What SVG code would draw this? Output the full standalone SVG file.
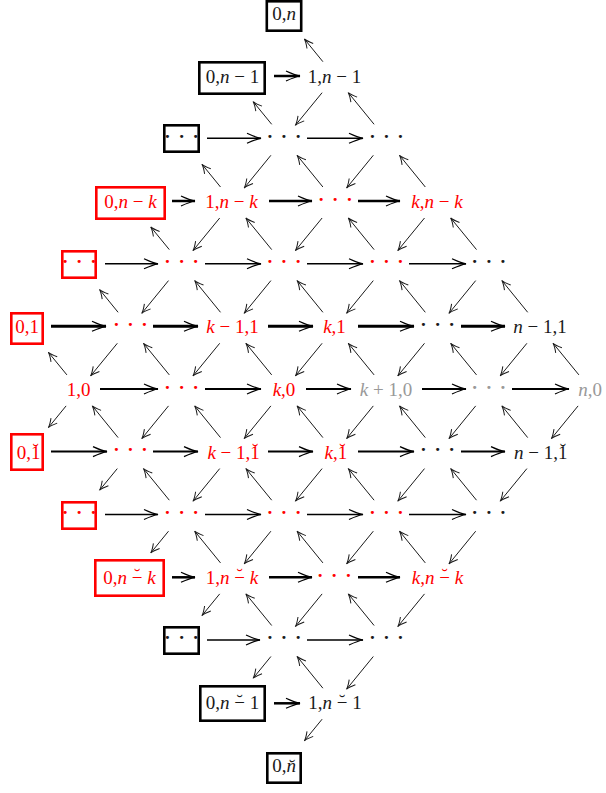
<svg xmlns="http://www.w3.org/2000/svg" width="606" height="793" viewBox="0 0 606 793">
<style>
text{font-family:"Liberation Serif","Times New Roman",serif;font-size:19px;text-anchor:middle}
.k{fill:#1a1a1a}.r{fill:#f00}.g{fill:#999}
.i{font-style:italic}
.d{letter-spacing:7.75px;font-weight:bold}
.bk{fill:none;stroke:#000;stroke-width:2.6}
.br{fill:none;stroke:#f00;stroke-width:2.6}
.h path{fill:none;stroke:#000;marker-end:url(#ah)}
.h1 path{stroke-width:1.6}.h2 path{stroke-width:2}.h3 path{stroke-width:2.5}.h4 path{stroke-width:3}
.dg path{fill:none;stroke:#1a1a1a;stroke-width:1;marker-end:url(#ad)}
</style>
<defs>
<marker id="ah" markerUnits="userSpaceOnUse" viewBox="-15 -6 16 12" markerWidth="16" markerHeight="12" refX="0" refY="0" orient="auto" overflow="visible">
<path d="M-14,-5 Q-5,-0.8 0,0 Q-5,0.8 -14,5" fill="none" stroke="#000" stroke-width="1.2"/>
</marker>
<marker id="ad" markerUnits="userSpaceOnUse" viewBox="-10 -5 11 10" markerWidth="11" markerHeight="10" refX="0" refY="0" orient="auto" overflow="visible">
<path d="M-9,-4 Q-3.2,-0.6 0,0 Q-3.2,0.6 -9,4" fill="none" stroke="#1a1a1a" stroke-width="1"/>
</marker>
</defs>

<g id="connectors">
<g id="horizontal" class="h">
<g class="h3"><path d="M274,76H300"/></g>
<g class="h1"><path d="M207,138.3H261"/><path d="M307,138.3H363"/></g>
<g class="h3"><path d="M172,201H195"/><path d="M269,201H312"/><path d="M358,201H400"/></g>
<g class="h1"><path d="M105,263.8H158"/><path d="M205,263.8H261"/><path d="M307,263.8H363"/><path d="M409,263.8H466"/></g>
<g class="h4"><path d="M51,326.3H106"/><path d="M153,326.3H198"/><path d="M268,326.3H313"/><path d="M358,326.3H414"/><path d="M461,326.3H505"/></g>
<g class="h2"><path d="M100,389H158"/><path d="M205,389H261"/><path d="M306,389H351"/><path d="M422,389H466"/><path d="M512,389H569"/></g>
<g class="h2"><path d="M51,451.6H107"/><path d="M153,451.6H198"/><path d="M268,451.6H313"/><path d="M358,451.6H414"/><path d="M461,451.6H505"/></g>
<g class="h1"><path d="M105,514.5H158"/><path d="M205,514.5H261"/><path d="M307,514.5H363"/><path d="M409,514.5H466"/></g>
<g class="h3"><path d="M172,577.3H195"/><path d="M269,577.3H312"/><path d="M358,577.3H400"/></g>
<g class="h1"><path d="M207,640H260"/><path d="M307,640H363"/></g>
<g class="h3"><path d="M274,703.3H300"/></g>
</g>
<g id="diagonal" class="dg">
<path d="M322.9,61.7L304.4,39"/>
<path d="M322.1,92.7L295.4,125.3"/>
<path d="M271.7,124.3L253.2,101.7"/>
<path d="M270.9,155.3L244.2,188"/>
<path d="M374.1,124.3L348.3,92.7"/>
<path d="M373.3,155.3L346.6,188"/>
<path d="M220.5,187L202,164.3"/>
<path d="M219.7,218L193,250.6"/>
<path d="M322.9,187L297.1,155.3"/>
<path d="M322.1,218L295.4,250.6"/>
<path d="M425.3,187L399.5,155.3"/>
<path d="M424.5,218L397.8,250.6"/>
<path d="M169.3,249.6L150.8,227"/>
<path d="M168.5,280.6L141.8,313.3"/>
<path d="M271.7,249.6L245.9,218"/>
<path d="M270.9,280.6L244.2,313.3"/>
<path d="M374.1,249.6L348.3,218"/>
<path d="M373.3,280.6L346.6,313.3"/>
<path d="M476.5,249.6L450.7,218"/>
<path d="M475.7,280.6L449,313.3"/>
<path d="M118.1,312.3L99.6,289.6"/>
<path d="M117.3,343.3L90.6,375.9"/>
<path d="M220.5,312.3L194.7,280.6"/>
<path d="M219.7,343.3L193,375.9"/>
<path d="M322.9,312.3L297.1,280.6"/>
<path d="M322.1,343.3L295.4,375.9"/>
<path d="M425.3,312.3L399.5,280.6"/>
<path d="M424.5,343.3L397.8,375.9"/>
<path d="M527.7,312.3L501.9,280.6"/>
<path d="M526.9,343.3L500.2,375.9"/>
<path d="M66.9,374.9L48.4,352.3"/>
<path d="M66.1,405.9L48.4,427.6"/>
<path d="M169.3,374.9L143.5,343.3"/>
<path d="M168.5,405.9L141.8,438.6"/>
<path d="M271.7,374.9L245.9,343.3"/>
<path d="M270.9,405.9L244.2,438.6"/>
<path d="M374.1,374.9L348.3,343.3"/>
<path d="M373.3,405.9L346.6,438.6"/>
<path d="M476.5,374.9L450.7,343.3"/>
<path d="M475.7,405.9L449,438.6"/>
<path d="M578.9,374.9L553.1,343.3"/>
<path d="M578.1,405.9L551.4,438.6"/>
<path d="M118.1,437.6L92.3,405.9"/>
<path d="M117.3,468.6L99.6,490.2"/>
<path d="M220.5,437.6L194.7,405.9"/>
<path d="M219.7,468.6L193,501.2"/>
<path d="M322.9,437.6L297.1,405.9"/>
<path d="M322.1,468.6L295.4,501.2"/>
<path d="M425.3,437.6L399.5,405.9"/>
<path d="M424.5,468.6L397.8,501.2"/>
<path d="M527.7,437.6L501.9,405.9"/>
<path d="M526.9,468.6L500.2,501.2"/>
<path d="M169.3,500.2L143.5,468.6"/>
<path d="M168.5,531.2L150.8,552.9"/>
<path d="M271.7,500.2L245.9,468.6"/>
<path d="M270.9,531.2L244.2,563.9"/>
<path d="M374.1,500.2L348.3,468.6"/>
<path d="M373.3,531.2L346.6,563.9"/>
<path d="M476.5,500.2L450.7,468.6"/>
<path d="M475.7,531.2L449,563.9"/>
<path d="M220.5,562.9L194.7,531.2"/>
<path d="M219.7,593.9L202,615.5"/>
<path d="M322.9,562.9L297.1,531.2"/>
<path d="M322.1,593.9L295.4,626.5"/>
<path d="M425.3,562.9L399.5,531.2"/>
<path d="M424.5,593.9L397.8,626.5"/>
<path d="M271.7,625.5L245.9,593.9"/>
<path d="M270.9,656.5L253.2,678.2"/>
<path d="M374.1,625.5L348.3,593.9"/>
<path d="M373.3,656.5L346.6,689.2"/>
<path d="M322.9,688.2L297.1,656.5"/>
<path d="M322.1,719.2L304.4,740.8"/>
</g>
</g>

<!-- row 0 -->
<g id="n0-n"><rect class="bk" x="266.8" y="1.3" width="34.4" height="29.4"/><text class="k" x="284" y="20">0,<tspan class="i">n</tspan></text></g>
<!-- row 1 -->
<g id="n0-n-1"><rect class="bk" x="199.3" y="62.3" width="65.4" height="31.4"/><text class="k" x="232.5" y="82.7">0,<tspan class="i">n</tspan> − 1</text></g>
<g id="n1-n-1"><text class="k" x="334.5" y="82.7">1,<tspan class="i">n</tspan> − 1</text></g>
<!-- row 2 -->
<g id="r2c3"><rect class="bk" x="164.3" y="125.3" width="34.4" height="26.4"/><text class="k d" x="185.5" y="143.1">···</text></g>
<g id="r2c5"><text class="k d" x="287.9" y="143.1">···</text></g>
<g id="r2c7"><text class="k d" x="390.3" y="143.1">···</text></g>
<!-- row 3 -->
<g id="n0-n-k"><rect class="br" x="96.3" y="187.3" width="68.4" height="31.4"/><text class="r" x="130.5" y="208">0,<tspan class="i">n</tspan> − <tspan class="i">k</tspan></text></g>
<g id="n1-n-k"><text class="r" x="231.5" y="208">1,<tspan class="i">n</tspan> − <tspan class="i">k</tspan></text></g>
<g id="r3c6"><text class="r d" x="339.1" y="205.8">···</text></g>
<g id="nk-n-k"><text class="r" x="437" y="208"><tspan class="i">k</tspan>,<tspan class="i">n</tspan> − <tspan class="i">k</tspan></text></g>
<!-- row 4 -->
<g id="r4c1"><rect class="br" x="62.3" y="251.3" width="33.4" height="26.4"/><text class="r d" x="83.1" y="268.4">···</text></g>
<g id="r4c3"><text class="r d" x="185.5" y="268.4">···</text></g>
<g id="r4c5"><text class="r d" x="287.9" y="268.4">···</text></g>
<g id="r4c7"><text class="r d" x="390.3" y="268.4">···</text></g>
<g id="r4c9"><text class="k d" x="492.7" y="268.4">···</text></g>
<!-- row 5 -->
<g id="n0-1"><rect class="br" x="11.3" y="313.3" width="31.4" height="30.4"/><text class="r" x="27" y="333.3">0,1</text></g>
<g id="r5c2"><text class="r d" x="134.3" y="331">···</text></g>
<g id="nk-1-1"><text class="r" x="232.5" y="333.3"><tspan class="i">k</tspan> − 1,1</text></g>
<g id="nk-1"><text class="r" x="334.5" y="333.3"><tspan class="i">k</tspan>,1</text></g>
<g id="r5c8"><text class="k d" x="441.5" y="331">···</text></g>
<g id="nn-1-1"><text class="k" x="540" y="333.3"><tspan class="i">n</tspan> − 1,1</text></g>
<!-- row 6 -->
<g id="n1-0"><text class="r" x="78.5" y="396">1,0</text></g>
<g id="r6c3"><text class="r d" x="185.5" y="393.7">···</text></g>
<g id="nk-0"><text class="r" x="284" y="396"><tspan class="i">k</tspan>,0</text></g>
<g id="nk+1-0"><text class="g" x="386" y="396"><tspan class="i">k</tspan> + 1,0</text></g>
<g id="r6c9"><text class="g d" x="492.7" y="393.7">···</text></g>
<g id="nn-0"><text class="g" x="590" y="396"><tspan class="i">n</tspan>,0</text></g>
<!-- row 7 -->
<g id="n0-1b"><rect class="br" x="11.3" y="434.3" width="31.4" height="35.4"/><text class="r" x="28.5" y="458.6">0,1<tspan dx="-7.9" dy="-2">˘</tspan></text></g>
<g id="r7c2"><text class="r d" x="134.3" y="456.4">···</text></g>
<g id="nk-1-1b"><text class="r" x="233.6" y="458.6"><tspan class="i">k</tspan> − 1,1<tspan dx="-7.9" dy="-2">˘</tspan></text></g>
<g id="nk-1b"><text class="r" x="335.8" y="458.6"><tspan class="i">k</tspan>,1<tspan dx="-7.9" dy="-2">˘</tspan></text></g>
<g id="r7c8"><text class="k d" x="441.5" y="456.4">···</text></g>
<g id="nn-1-1b"><text class="k" x="540.8" y="458.6"><tspan class="i">n</tspan> − 1,1<tspan dx="-7.9" dy="-2">˘</tspan></text></g>
<!-- row 8 -->
<g id="r8c1"><rect class="br" x="62.3" y="502.3" width="33.4" height="26.4"/><text class="r d" x="83.1" y="519">···</text></g>
<g id="r8c3"><text class="r d" x="185.5" y="519">···</text></g>
<g id="r8c5"><text class="r d" x="287.9" y="519">···</text></g>
<g id="r8c7"><text class="r d" x="390.3" y="519">···</text></g>
<g id="r8c9"><text class="k d" x="492.7" y="519">···</text></g>
<!-- row 9 -->
<g id="n0-n-kb"><rect class="br" x="95.3" y="560.3" width="68.4" height="35.4"/><text class="r" x="129.5" y="583.9">0,<tspan class="i">n</tspan> −<tspan dx="-8.5" dy="-1.5">˘</tspan><tspan dx="2.2" dy="1.5"> </tspan><tspan class="i">k</tspan></text></g>
<g id="n1-n-kb"><text class="r" x="232" y="583.9">1,<tspan class="i">n</tspan> −<tspan dx="-8.5" dy="-1.5">˘</tspan><tspan dx="2.2" dy="1.5"> </tspan><tspan class="i">k</tspan></text></g>
<g id="r9c6"><text class="r d" x="338.1" y="581.6">···</text></g>
<g id="nk-n-kb"><text class="r" x="437.5" y="583.9"><tspan class="i">k</tspan>,<tspan class="i">n</tspan> −<tspan dx="-8.5" dy="-1.5">˘</tspan><tspan dx="2.2" dy="1.5"> </tspan><tspan class="i">k</tspan></text></g>
<!-- row 10 -->
<g id="r10c3"><rect class="bk" x="164.3" y="627.3" width="34.4" height="26.4"/><text class="k d" x="185.5" y="644.3">···</text></g>
<g id="r10c5"><text class="k d" x="287.9" y="644.3">···</text></g>
<g id="r10c7"><text class="k d" x="390.3" y="644.3">···</text></g>
<!-- row 11 -->
<g id="n0-n-1b"><rect class="bk" x="200.3" y="686.3" width="64.4" height="34.4"/><text class="k" x="232.5" y="709.2">0,<tspan class="i">n</tspan> −<tspan dx="-8.5" dy="-1.5">˘</tspan><tspan dx="2.2" dy="1.5"> </tspan>1</text></g>
<g id="n1-n-1b"><text class="k" x="335" y="709.2">1,<tspan class="i">n</tspan> −<tspan dx="-8.5" dy="-1.5">˘</tspan><tspan dx="2.2" dy="1.5"> </tspan>1</text></g>
<!-- row 12 -->
<g id="n0-nb"><rect class="bk" x="267.3" y="753.3" width="33.4" height="29.4"/><text class="k" x="284" y="772">0,<tspan class="i">n&#x306;</tspan></text></g>
</svg>
